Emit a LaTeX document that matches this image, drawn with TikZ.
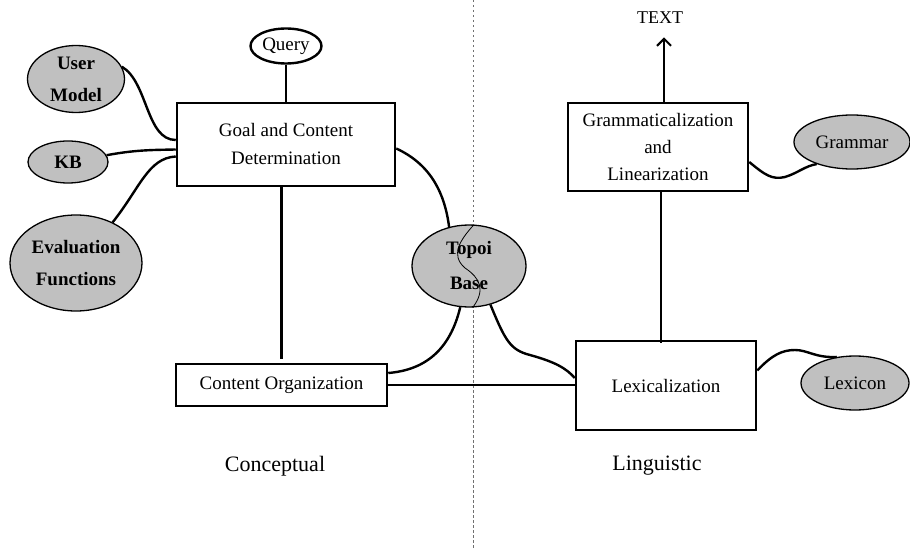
\documentclass[tikz,border=0pt]{standalone}
\usepackage{fontspec}
\setmainfont{Liberation Serif}
\usetikzlibrary{arrows.meta,shapes.geometric}
\definecolor{srcgray}{HTML}{C0C0C0}
\definecolor{divgray}{HTML}{707070}

\begin{document}
\begin{tikzpicture}[x=1pt,y=-1pt,
  link/.style={line width=2.4pt},
  stagebox/.style={draw,line width=2.5pt,inner sep=0pt,align=center,
    font=\fontsize{19}{28}\selectfont},
  source/.style={ellipse,draw,fill=srcgray,line width=1.3pt,inner sep=0pt,
    align=center,font=\fontsize{19}{32}\selectfont\bfseries},
  plainsource/.style={ellipse,draw,fill=srcgray,line width=1.3pt,inner sep=0pt,
    align=center,font=\fontsize{19}{24}\selectfont},
  side/.style={font=\fontsize{22}{26}\selectfont}]
\useasboundingbox (0,0) rectangle (910,548);

% divider between the conceptual and linguistic halves
\draw[divgray,line width=0.9pt,dash pattern=on 2.5pt off 2.5pt] (473,0) -- (473,548);

% processing stages
\node[stagebox,minimum width=218pt,minimum height=83pt] (goal) at (286,144.5)
  {Goal and Content\\Determination};
\node[stagebox,minimum width=211pt,minimum height=42pt] (org) at (281.5,385)
  {Content Organization};
\node[stagebox,minimum width=180pt,minimum height=88pt,
  font=\fontsize{19}{27}\selectfont] (gram) at (658,147)
  {Grammaticalization\\and\\Linearization};
\node[stagebox,minimum width=180pt,minimum height=89pt] (lex) at (666,385.5)
  {Lexicalization};

% knowledge sources
\node[source,minimum width=97pt,minimum height=67pt] (user) at (76,79) {User\\Model};
\node[source,minimum width=80pt,minimum height=42pt] (kb) at (68,162) {KB};
\node[source,minimum width=132pt,minimum height=96pt] (eval) at (76,263)
  {Evaluation\\Functions};
\node[ellipse,draw,fill=white,line width=2.4pt,inner sep=0pt,minimum width=71pt,
  minimum height=35pt,font=\fontsize{19}{24}\selectfont] (query) at (286,46) {Query};
\node[source,minimum width=114pt,minimum height=82pt,
  font=\fontsize{19}{35}\selectfont\bfseries] (topoi) at (469,266) {Topoi\\Base};
\node[plainsource,minimum width=116pt,minimum height=54pt] (grammar) at (852,142) {Grammar};
\node[plainsource,minimum width=108pt,minimum height=54pt] (lexicon) at (855,383) {Lexicon};

% the divider running through the topoi base
\draw[line width=0.8pt] (topoi.83) .. controls (460,240) and (450,255) .. (465,268)
  .. controls (480,278) and (486,290) .. (topoi.275);

\node[font=\fontsize{18}{22}\selectfont] (text) at (660,18) {TEXT};

% connectors
\draw[link] (query.south) -- (query.south |- goal.north);
\draw[link] (org.north |- goal.south) -- ([yshift=4pt]org.north);
\draw[link] (user.15) .. controls (148,82) and (146,140) .. ([yshift=4.5pt]goal.west);
\draw[link] (kb.10) .. controls (135,150) and (150,150) .. ([yshift=-5pt]goal.west);
\draw[link] (eval.48) .. controls (140,188) and (148,158) .. ([yshift=-12pt]goal.west);
\draw[link] ([yshift=-4pt]goal.east) .. controls (432,165) and (445,195) .. (topoi.117);
\draw[link] (topoi.258) .. controls (450,350) and (425,370) .. ([yshift=12pt]org.east);
\draw[link] (topoi.299) .. controls (505,340) and (510,350) .. (530,355)
  .. controls (555,362) and (566,368) .. ([yshift=7.5pt]lex.west);
\draw[link] (org.east) -- (org.east -| lex.west);
\draw[link] ([xshift=-5pt,yshift=-3pt]lex.north) -- ([xshift=-5pt]lex.north |- gram.south);
\draw[link,-{Straight Barb[length=7pt,width=14pt,line width=2pt]}]
  ([xshift=6pt]gram.north) -- ([xshift=6pt,yshift=-10pt]gram.north |- text.south);
\draw[link] ([yshift=-15pt]gram.east) .. controls (765,175) and (772,180) .. (785,177)
  .. controls (798,173) and (805,166) .. (grammar.212);
\draw[link] ([yshift=15pt]lex.east) .. controls (772,355) and (782,350) .. (795,350)
  .. controls (808,350) and (815,358) .. (lexicon.125);

% halves
\node[side] (concept) at (275,466) {Conceptual};
\node[side] (lingu) at (657,466) {Linguistic};
\end{tikzpicture}
\end{document}
